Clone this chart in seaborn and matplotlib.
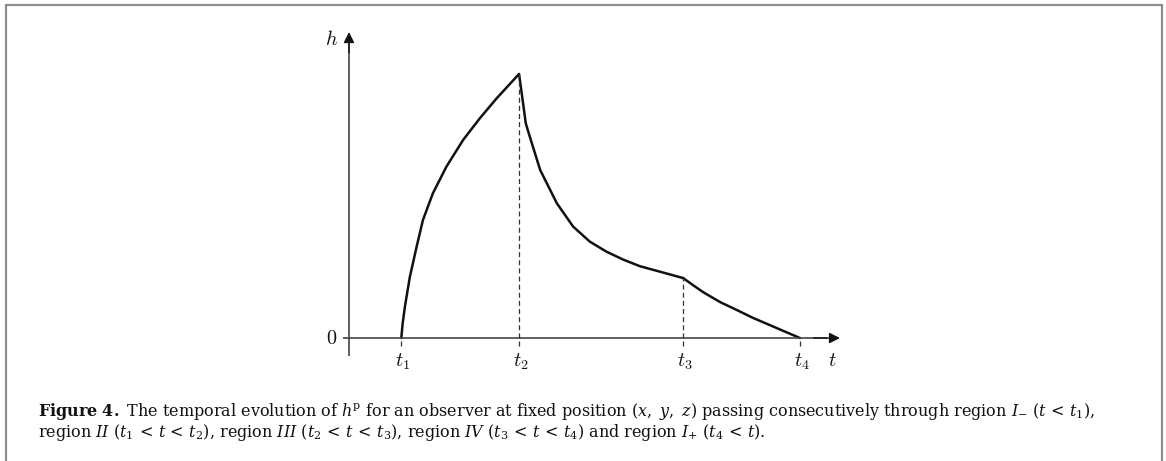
import matplotlib
matplotlib.use("Agg")
import matplotlib.pyplot as plt
from matplotlib.lines import Line2D
import seaborn as sns
import pandas as pd

# --- data -------------------------------------------------------------
# event times (normalised so that t4 = 1)
t_marks = [0.116, 0.377, 0.741, 1.0]
t_labels = [r"$t_1$", r"$t_2$", r"$t_3$", r"$t_4$"]

# region II: rise from t1 to t2
t_II = [0.116, 0.119, 0.124, 0.135, 0.150, 0.164, 0.186, 0.216, 0.253, 0.290, 0.327, 0.377]
h_II = [0.000, 0.055, 0.119, 0.232, 0.346, 0.447, 0.548, 0.649, 0.750, 0.832, 0.907, 1.000]

# region III: decay from t2 to t3
t_III = [0.377, 0.381, 0.387, 0.392, 0.401, 0.424, 0.461, 0.497, 0.534, 0.571,
         0.608, 0.645, 0.690, 0.741]
h_III = [1.000, 0.952, 0.876, 0.813, 0.762, 0.636, 0.510, 0.422, 0.365, 0.327,
         0.297, 0.272, 0.251, 0.227]

# region IV: decay from t3 to t4
t_IV = [0.741, 0.763, 0.785, 0.823, 0.860, 0.896, 0.933, 0.967, 1.0]
h_IV = [0.227, 0.200, 0.174, 0.136, 0.106, 0.076, 0.049, 0.024, 0.000]

caption_1 = (r"$\mathbf{Figure\ 4.}$ The temporal evolution of $h^{\mathrm{p}}$ for an observer at fixed "
             r"position $(x,\ y,\ z)$ passing consecutively through region $I_{-}$ $(t\,<\,t_{1})$,")
caption_2 = (r"region $II$ $(t_{1}\,<\,t\,<\,t_{2})$, region $III$ $(t_{2}\,<\,t\,<\,t_{3})$, "
             r"region $IV$ $(t_{3}\,<\,t\,<\,t_{4})$ and region $I_{+}$ $(t_{4}\,<\,t)$.")

# --- style ------------------------------------------------------------
sns.set_theme(style="white")
plt.rcParams["font.family"] = ["DejaVu Serif"]
plt.rcParams["mathtext.fontset"] = "dejavuserif"

W, H = 1166, 461
fig = plt.figure(figsize=(W / 100, H / 100), dpi=100)

# axes placed in pixel terms: x 300..900, y 20..380 (from top)
ax = fig.add_axes([300 / W, (H - 380) / H, 600 / W, 360 / H])
ax.set_xlim(-0.1086, 1.2217)
ax.set_ylim(-0.159, 1.2045)
ax.axis("off")

df = pd.concat([
    pd.DataFrame({"t": t_II, "h": h_II, "region": "II"}),
    pd.DataFrame({"t": t_III, "h": h_III, "region": "III"}),
    pd.DataFrame({"t": t_IV, "h": h_IV, "region": "IV"}),
])
sns.lineplot(data=df, x="t", y="h", units="region", estimator=None, sort=False,
             color="#111111", linewidth=1.8, ax=ax, legend=False)

# coordinate axes with arrow heads
axis_col = "#444444"
ax.plot([-0.0133, 1.06], [0, 0], color=axis_col, lw=1.2, solid_capstyle="butt")
ax.plot([0, 0], [-0.068, 1.12], color=axis_col, lw=1.2, solid_capstyle="butt")
ax.annotate("", xy=(1.0887, 0), xytext=(1.03, 0),
            arrowprops=dict(arrowstyle="-|>", color="#111111", lw=1.0,
                            mutation_scale=16, shrinkA=0, shrinkB=0))
ax.annotate("", xy=(0, 1.159), xytext=(0, 1.08),
            arrowprops=dict(arrowstyle="-|>", color="#111111", lw=1.0,
                            mutation_scale=16, shrinkA=0, shrinkB=0))

# dashed guides at the event times
peak_h = [0.0, h_II[-1], h_III[-1], 0.0]
for tm, ph in zip(t_marks, peak_h):
    ax.plot([tm, tm], [-0.03, ph], color="#333333", lw=0.9, ls=(0, (4, 2.5)))

# labels
lab_kw = dict(fontsize=14.5, math_fontfamily="cm", color="#111111")
for tm, lb in zip(t_marks, t_labels):
    ax.text(tm + 0.004, -0.09, lb, ha="center", va="center", **lab_kw)
ax.text(1.071, -0.085, r"$t$", ha="center", va="center", **lab_kw)
ax.text(-0.027, 0.0, r"$0$", ha="right", va="center", **lab_kw)
ax.text(-0.038, 1.13, r"$h$", ha="center", va="center", **lab_kw)

# caption
cap_kw = dict(fontsize=11.5, ha="left", va="center", color="#111111")
fig.text(38 / W, 1 - 411 / H, caption_1, **cap_kw)
fig.text(38 / W, 1 - 432 / H, caption_2, **cap_kw)

# page frame (open at the bottom)
frame_col = "#8f8f8f"
fig.add_artist(Line2D([6 / W, 6 / W], [0, 1 - 5 / H], color=frame_col, lw=1.6, transform=fig.transFigure))
fig.add_artist(Line2D([1162 / W, 1162 / W], [0, 1 - 5 / H], color=frame_col, lw=1.6, transform=fig.transFigure))
fig.add_artist(Line2D([6 / W, 1162 / W], [1 - 5 / H, 1 - 5 / H], color=frame_col, lw=1.6, transform=fig.transFigure))

fig.savefig("out.png", dpi=100)
